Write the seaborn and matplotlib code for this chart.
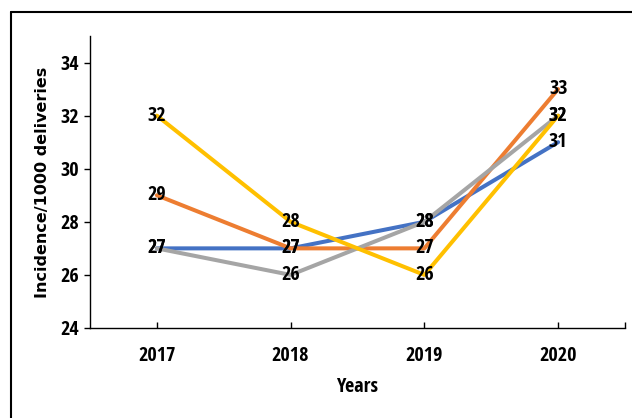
import matplotlib
matplotlib.use("Agg")
import matplotlib.pyplot as plt
from matplotlib.lines import Line2D
import seaborn as sns
import pandas as pd

years = ["2017", "2018", "2019", "2020"]
series_a = [27, 27, 28, 31]
series_b = [29, 27, 27, 33]
series_c = [27, 26, 28, 32]
series_d = [32, 28, 26, 32]
series_names = ["A", "B", "C", "D"]
colors = ["#4472C4", "#ED7D31", "#A5A5A5", "#FFC000"]

sns.set_style("white")
plt.rcParams["font.family"] = ["Open Sans Condensed", "Roboto Condensed",
                               "Liberation Sans Narrow", "Liberation Sans",
                               "DejaVu Sans"]
plt.rcParams["text.color"] = "black"
plt.rcParams["axes.labelcolor"] = "black"
plt.rcParams["xtick.color"] = "black"
plt.rcParams["ytick.color"] = "black"

rows = []
for name, vals in zip(series_names, [series_a, series_b, series_c, series_d]):
    for yr, v in zip(years, vals):
        rows.append({"Year": yr, "Value": v, "Series": name})
df = pd.DataFrame(rows)

fig = plt.figure(figsize=(6.32, 4.18), dpi=100)
ax = fig.add_axes([90 / 632, 1 - 328 / 418, 535 / 632, 292 / 418])

sns.lineplot(data=df, x="Year", y="Value", hue="Series", palette=colors,
             linewidth=2.9, legend=False, ax=ax, sort=False)

# value labels centred on each point
for name, vals in zip(series_names, [series_a, series_b, series_c, series_d]):
    for i, v in enumerate(vals):
        ax.text(i, v, f"{v}", ha="center", va="center", fontsize=14.5,
                fontweight="bold", color="black", zorder=5)

ax.set_xlim(-0.5, 3.5)
ax.set_ylim(24, 35)
ax.set_yticks(range(24, 35, 2))
ax.set_xticks(range(4))
ax.set_xticklabels(years)
ax.set_xticks([3.5], minor=True)

for s in ["top", "right"]:
    ax.spines[s].set_visible(False)
for s in ["left", "bottom"]:
    ax.spines[s].set_color("black")
    ax.spines[s].set_linewidth(1.0)

ax.tick_params(axis="y", direction="out", length=4, width=1, colors="black",
               labelsize=14.5, pad=4, left=True)
ax.tick_params(axis="x", which="both", direction="in", length=4, width=1,
               colors="black", labelsize=14.5, pad=13, bottom=True)
for lab in ax.get_xticklabels() + ax.get_yticklabels():
    lab.set_fontweight("bold")

ax.set_xlabel("Years", fontsize=14.5, fontweight="bold", labelpad=8)
ax.set_ylabel("Incidence/1000 deliveries", fontsize=11.5, fontweight="bold",
              family="DejaVu Sans", labelpad=7)

# outer frame of the chart area
fig.add_artist(Line2D([11 / 632, 11 / 632], [0, 1 - 12 / 418],
                      transform=fig.transFigure, color="black", linewidth=1.5))
fig.add_artist(Line2D([11 / 632, 1], [1 - 12 / 418, 1 - 12 / 418],
                      transform=fig.transFigure, color="black", linewidth=1.5))

fig.savefig("out.png", dpi=100)
